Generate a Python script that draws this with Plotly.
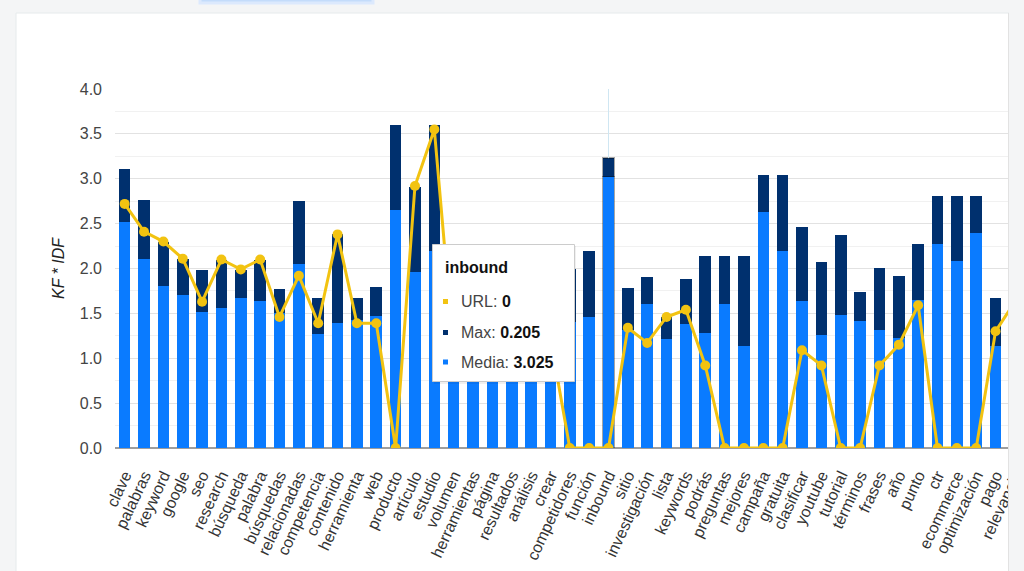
"""KF * IDF por término: barras apiladas (Media + Max) y línea URL."""

import plotly.graph_objects as go

W, H = 1024, 571
PLOT_L, PLOT_R, PLOT_T, PLOT_B = 115, 1024, 89, 448
CARD_R = 1009

TERMS = [
    "clave", "palabras", "keyword", "google", "seo", "research", "búsqueda",
    "palabra", "búsquedas", "relacionadas", "competencia", "contenido",
    "herramienta", "web", "producto", "artículo", "estudio", "volumen",
    "herramientas", "página", "resultados", "análisis", "crear",
    "competidores", "función", "inbound", "sitio", "investigación", "lista",
    "keywords", "podrás", "preguntas", "mejores", "campaña", "gratuita",
    "clasificar", "youtube", "tutorial", "términos", "frases", "año", "punto",
    "ctr", "ecommerce", "optimización", "pago", "relevancia",
]
MEDIA = [
    2.52, 2.11, 1.81, 1.70, 1.51, 1.56, 1.67, 1.64, 1.50, 2.05, 1.27, 1.39,
    1.43, 1.47, 2.65, 1.96, 2.19, 1.55, 1.45, 1.40, 1.35, 1.30, 1.25, 1.40,
    1.46, 3.025, 1.31, 1.61, 1.21, 1.38, 1.28, 1.60, 1.14, 2.63, 2.19, 1.64,
    1.26, 1.48, 1.42, 1.32, 1.23, 1.65, 2.27, 2.08, 2.40, 1.14, 1.65,
]
MAX = [
    0.59, 0.65, 0.49, 0.41, 0.47, 0.54, 0.31, 0.46, 0.27, 0.70, 0.40, 0.99,
    0.24, 0.32, 0.95, 0.95, 1.41, 0.45, 0.55, 0.40, 0.60, 0.35, 0.50, 0.60,
    0.74, 0.205, 0.47, 0.30, 0.25, 0.50, 0.86, 0.54, 1.00, 0.41, 0.85, 0.82,
    0.81, 0.89, 0.32, 0.69, 0.69, 0.62, 0.54, 0.73, 0.41, 0.53, 0.63,
]
URL = [
    2.72, 2.41, 2.30, 2.11, 1.63, 2.10, 1.99, 2.10, 1.46, 1.92, 1.39, 2.38,
    1.39, 1.39, 0, 2.92, 3.55, 1.08, 1.25, 0.95, 1.10, 0.90, 1.22, 0,
    0, 0, 1.34, 1.17, 1.46, 1.54, 0.92, 0, 0, 0, 0, 1.09,
    0.92, 0, 0, 0.92, 1.15, 1.59, 0, 0, 0, 1.30, 1.63,
]
HOVER_TERM = "inbound"

C_MEDIA = "#0a7bff"
C_MAX = "#00306e"
C_URL = "#f2c311"
PAGE_BG = "#f4f5f6"
FONT = "Arial, Liberation Sans, sans-serif"


def px(x):
    """Pixel x -> paper fraction."""
    return (x - PLOT_L) / (PLOT_R - PLOT_L)


def py(y):
    """Pixel y -> paper fraction."""
    return (PLOT_B - y) / (PLOT_B - PLOT_T)


def rect(x0, y0, x1, y1, **kw):
    return dict(type="rect", xref="paper", yref="paper",
                x0=px(x0), x1=px(x1), y0=py(y0), y1=py(y1), **kw)


hi = TERMS.index(HOVER_TERM)
edge_w = [1.5 if i == hi else 0 for i in range(len(TERMS))]

fig = go.Figure()
fig.add_bar(x=TERMS, y=MEDIA, name="Media", marker_color=C_MEDIA,
            marker_line=dict(width=edge_w, color="rgba(0,0,0,0.35)"))
fig.add_bar(x=TERMS, y=MAX, name="Max", marker_color=C_MAX,
            marker_line=dict(width=edge_w, color="rgba(0,0,0,0.35)"))
fig.add_scatter(x=TERMS, y=URL, name="URL", mode="lines+markers",
                line=dict(color=C_URL, width=3),
                marker=dict(color=C_URL, size=10))

shapes = [
    # card and page background
    rect(16, 13, CARD_R + 20, 600, layer="below", fillcolor="white",
         line=dict(color="#e6eaec", width=1)),
    rect(200, -8, 373, 3, layer="below", fillcolor="#c4dcfb",
         line=dict(color="#dce9fd", width=3)),
    # crosshair on the hovered term
    dict(type="line", xref="x", yref="y", x0=HOVER_TERM, x1=HOVER_TERM,
         y0=MEDIA[hi] + MAX[hi], y1=4, line=dict(color="#cfe6f2", width=1)),
    # right border of the card
    dict(type="line", xref="paper", yref="paper", x0=px(CARD_R - 0.5),
         x1=px(CARD_R - 0.5), y0=py(13), y1=py(600), layer="above",
         line=dict(color="#e2e2e2", width=1)),
    # tooltip
    rect(434, 246, 576, 384, layer="above", fillcolor="rgba(0,0,0,0.06)",
         line=dict(width=0)),
    rect(432.5, 244.5, 574.5, 381.5, layer="above", fillcolor="white",
         line=dict(color="#cccccc", width=1)),
]

rows = [("URL", "0", C_URL, 301.5), ("Max", "0.205", C_MAX, 332.5),
        ("Media", "3.025", C_MEDIA, 362)]
annotations = [
    dict(xref="paper", yref="paper", x=px(443), y=py(267.5), xanchor="left",
         yanchor="middle", showarrow=False, text=f"<b>{HOVER_TERM}</b>",
         font=dict(family=FONT, size=16, color="#111"))
]
for label, val, col, yy in rows:
    shapes.append(rect(443, yy - 2.5, 448, yy + 2.5, layer="above",
                       fillcolor=col, line=dict(width=0)))
    annotations.append(
        dict(xref="paper", yref="paper", x=px(459), y=py(yy), xanchor="left",
             yanchor="middle", showarrow=False,
             text=f"{label}: <b><span style='color:#111'>{val}</span></b>",
             font=dict(family=FONT, size=16, color="#444")))

fig.update_layout(
    width=W, height=H,
    margin=dict(l=PLOT_L, r=W - PLOT_R, t=PLOT_T, b=H - PLOT_B),
    paper_bgcolor=PAGE_BG, plot_bgcolor="white",
    barmode="stack", bargap=0.4, showlegend=False,
    font=dict(family=FONT, size=16, color="#444"),
    shapes=shapes, annotations=annotations,
    xaxis=dict(type="category", range=[-0.5, len(TERMS) - 0.5 - 0.03],
               tickangle=-65, showgrid=False, ticks="", automargin=False,
               ticklabelstandoff=14, tickfont=dict(size=16, color="#333")),
    yaxis=dict(range=[0, 4], dtick=0.5, tickformat=".1f", automargin=False,
               gridcolor="#e2e2e2", zeroline=True, zerolinecolor="#9e9e9e",
               zerolinewidth=1.5, ticklabelstandoff=12,
               minor=dict(dtick=0.25, showgrid=True, gridcolor="#f1f1f1"),
               tickfont=dict(size=16, color="#444"),
               title=dict(text="<i>KF * IDF</i>", standoff=11,
                          font=dict(size=16, color="#222"))),
)

# no page margin; the card cuts the chart off at its right edge
fig.write_html(
    "out.html",
    config={"displayModeBar": False},
    post_script=(
        "document.body.style.margin='0';"
        "document.body.style.background='" + PAGE_BG + "';"
        "var c=document.querySelector('.svg-container');"
        "c.style.width='" + str(CARD_R) + "px';c.style.overflow='hidden';"
    ),
)
